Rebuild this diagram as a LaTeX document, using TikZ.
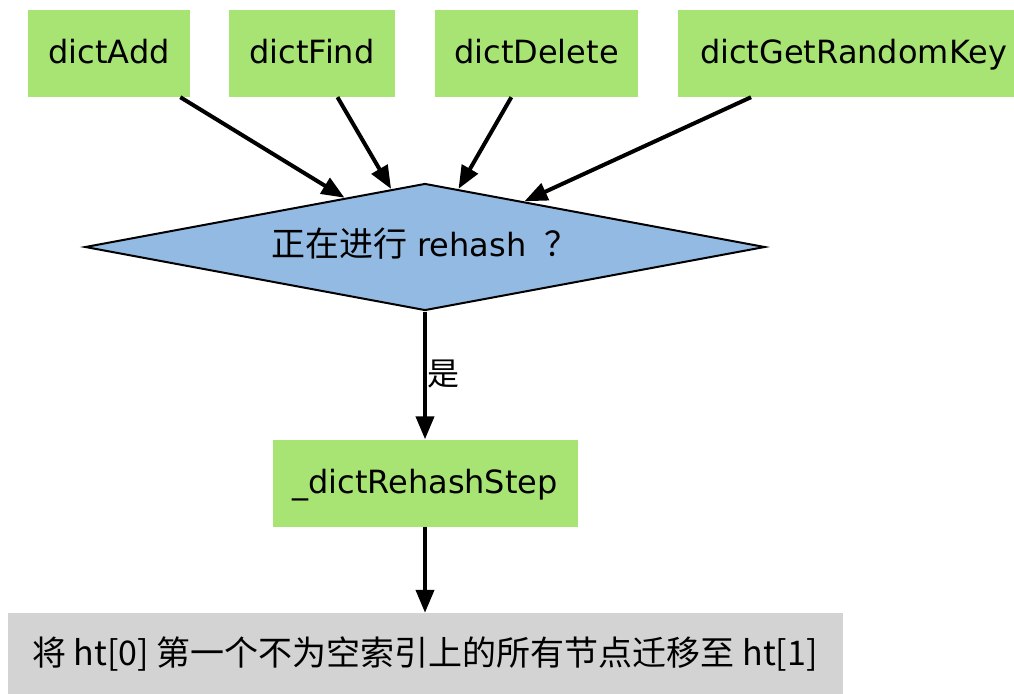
\documentclass[tikz,border=0pt]{standalone}
\usepackage{fontspec}
\setmainfont{DejaVu Sans}
\newfontfamily\cjk{Noto Sans CJK SC}
\usetikzlibrary{shapes.geometric,arrows.meta}
\definecolor{boxgreen}{HTML}{A8E473}
\definecolor{decblue}{HTML}{93BAE2}
\definecolor{boxgray}{HTML}{D3D3D3}
\begin{document}
\begin{tikzpicture}[x=1pt,y=-1pt,
  fn/.style={rectangle, fill=boxgreen, draw=none, inner sep=0pt,
    font=\fontsize{32}{38}\selectfont, text height=24pt, text depth=4pt,
    minimum height=87pt},
  dec/.style={diamond, aspect=5.354, minimum width=680pt, minimum height=127pt,
    inner sep=0pt, fill=decblue, draw=black, line width=2pt,
    font=\fontsize{32}{38}\selectfont, text height=24pt, text depth=5pt},
  result/.style={rectangle, fill=boxgray, draw=none, inner sep=0pt,
    font=\cjk\fontsize{34}{40}\selectfont, text height=25.5pt, text depth=8.5pt,
    minimum height=87pt},
  edge/.style={line width=4pt, -{Triangle[length=23pt,width=18pt]}},
  lbl/.style={font=\cjk\fontsize{32}{36}\selectfont, inner sep=0pt}
]
\useasboundingbox (0,0) rectangle (1014,693);
\node[fn, minimum width=162pt] (add) at (109,53.5) {dictAdd};
\node[fn, minimum width=166pt] (find) at (312,53.5) {dictFind};
\node[fn, minimum width=203pt] (del) at (536.5,53.5) {dictDelete};
\node[fn, minimum width=336pt, text width=322pt, align=right] (rand) at (846,53.5) {dictGetRandomKey};
\node[dec] (dec) at (425,247) {{\cjk\fontsize{34}{38}\selectfont 正在进行} rehash \kern8pt{\cjk\fontsize{34}{38}\selectfont ？}};
\node[fn, minimum width=305pt] (step) at (425,483) {\_dictRehashStep};
\node[result, minimum width=835pt] (res) at (425,656.5) {将 ht[0] 第一个不为空索引上的所有节点迁移至 ht[1]};
\draw[edge] (add) -- (dec);
\draw[edge] (find) -- (dec);
\draw[edge] (del) -- (dec);
\draw[edge] (rand) -- (dec);
\draw[edge] (dec.south) -- node[lbl, pos=0.49, anchor=west, xshift=0pt] (yes) {是} (step.north);
\draw[edge] (step.south) -- (res.north);
\end{tikzpicture}
\end{document}
